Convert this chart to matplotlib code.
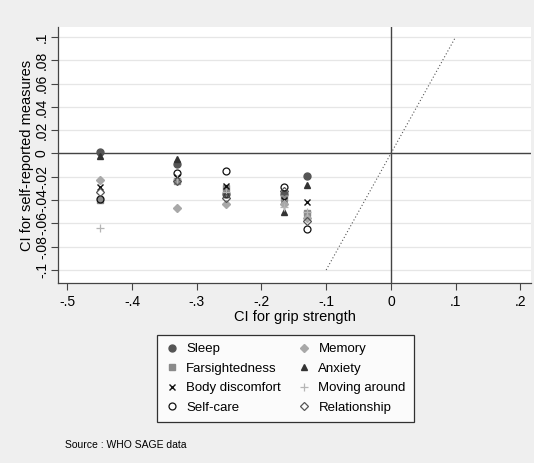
import matplotlib
matplotlib.use("Agg")
import matplotlib.pyplot as plt
from matplotlib.lines import Line2D

plt.rcParams['font.family'] = ['Liberation Sans', 'DejaVu Sans']

# grip strength CI (x) for each study group
grip = [-0.45, -0.33, -0.255, -0.165, -0.13]

# CI for self-reported measures, one list per measure
sleep = [0.001, -0.009, -0.035, -0.035, -0.019]
farsight = [-0.040, -0.024, -0.030, -0.038, -0.051]
body = [-0.029, -0.020, -0.028, -0.040, -0.042]
selfcare = [-0.039, -0.017, -0.0147, -0.029, -0.065]
memory = [-0.023, -0.0466, -0.043, -0.043, -0.055]
anxiety = [-0.002, -0.0045, -0.035, -0.050, -0.027]
moving = [-0.064, -0.022, -0.033, -0.046, -0.050]
relation = [-0.033, -0.024, -0.038, -0.032, -0.058]

xticks = [-0.5, -0.4, -0.3, -0.2, -0.1, 0, 0.1, 0.2]
yticks = [-0.1, -0.08, -0.06, -0.04, -0.02, 0, 0.02, 0.04, 0.06, 0.08, 0.1]


def stata_fmt(v):
    if abs(v) < 1e-9:
        return "0"
    s = ("%g" % v).replace("0.", ".")
    return s


fig = plt.figure(figsize=(5.34, 4.63), dpi=100, facecolor='#efefef')
ax = fig.add_axes([58 / 534, 1 - 283 / 463, (531 - 58) / 534, (283 - 27) / 463])
ax.set_facecolor('white')

ax.set_xlim(-0.5144, 0.2165)
ax.set_ylim(-0.1112, 0.1086)

for t in yticks:
    ax.axhline(t, color='#e6e6e6', lw=0.9, zorder=0)
ax.axhline(0, color='#444444', lw=1.0, zorder=1)
ax.axvline(0, color='#444444', lw=1.0, zorder=1)
ax.plot([-0.1, 0.1], [-0.1, 0.1], color='#555555', lw=0.8, ls=(0, (1, 2)), zorder=1)

ms = 5
series = [
    ("Sleep", sleep, dict(marker='o', color='#555555', ms=ms)),
    ("Farsightedness", farsight, dict(marker='s', color='#8a8a8a', ms=ms)),
    ("Body discomfort", body, dict(marker='x', color='#111111', ms=4, mew=1)),
    ("Self-care", selfcare, dict(marker='o', mfc='none', mec='#111111', ms=ms, mew=0.9)),
    ("Memory", memory, dict(marker='D', color='#a8a8a8', ms=4.5)),
    ("Anxiety", anxiety, dict(marker='^', color='#333333', ms=ms)),
    ("Moving around", moving, dict(marker='+', color='#b5b5b5', ms=6, mew=0.9)),
    ("Relationship", relation, dict(marker='D', mfc='none', mec='#555555', ms=4.5, mew=0.9)),
]
handles = []
for name, vals, kw in series:
    ax.plot(grip, vals, ls='none', zorder=3, **kw)
    handles.append(Line2D([], [], ls='none', label=name, **kw))

ax.set_xticks(xticks)
ax.set_xticklabels([stata_fmt(v) for v in xticks])
ax.set_yticks(yticks)
ax.set_yticklabels([stata_fmt(v) for v in yticks], rotation=90, va='center')
ax.tick_params(direction='out', length=5, width=0.8, color='#444444', labelsize=10)
ax.tick_params(axis='y', pad=1.5)

for s in ['top', 'right']:
    ax.spines[s].set_visible(False)
for s in ['left', 'bottom']:
    ax.spines[s].set_color('#444444')
    ax.spines[s].set_linewidth(0.9)

ax.set_xlabel("CI for grip strength", fontsize=10.5, labelpad=1)
ax.set_ylabel("CI for self-reported measures", fontsize=10.5, labelpad=1)

leg = fig.legend(handles, [s[0] for s in series],
                 ncol=2, loc='upper left',
                 bbox_to_anchor=(157 / 534, 1 - 335 / 463), borderaxespad=0,
                 frameon=True, fancybox=False, edgecolor='black',
                 fontsize=9.5, handlelength=1.0, handletextpad=0.6,
                 columnspacing=1.25, labelspacing=0.55, borderpad=0.6)
leg.get_frame().set_linewidth(0.9)

fig.text(65 / 534, 1 - 445 / 463, "Source : WHO SAGE data", fontsize=7.5,
         va='center', ha='left')

fig.savefig("out.png", dpi=100, facecolor=fig.get_facecolor())
